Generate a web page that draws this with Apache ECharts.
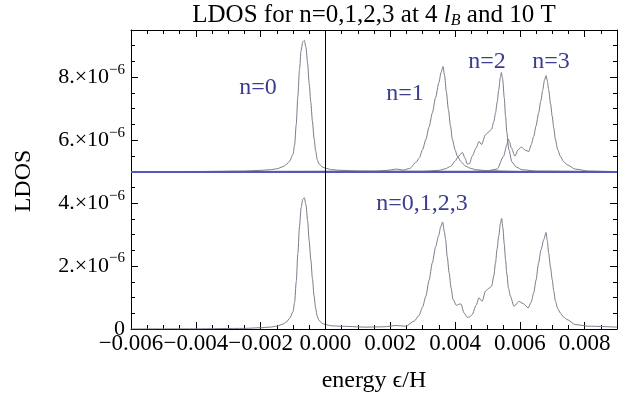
<!DOCTYPE html>
<html>
<head>
<meta charset="utf-8">
<script src="https://cdn.jsdelivr.net/npm/echarts@6/dist/echarts.min.js"></script>
<style>
  html, body { margin: 0; padding: 0; background: #fff; }
  #chart { width: 633px; height: 396px; }
</style>
</head>
<body>
<div id="chart"></div>
<script>
// LDOS values in units of 1e-6, energies in eps/H
const energyN0 = [-0.006, -0.004, -0.0025, -0.002, -0.0017, -0.0015, -0.0013, -0.0012, -0.0011, -0.001,
  -0.00095, -0.0009, -0.00085, -0.0008, -0.00075, -0.0007, -0.00065, -0.0006, -0.00055, -0.0005,
  -0.00045, -0.0004, -0.00035, -0.0003, -0.00025, -0.0002, -0.0001, 0, 0.0002, 0.0005, 0.001, 0.002, 0.009];
const ldosN0 = [0, 0.005, 0.02, 0.04, 0.06, 0.09, 0.16, 0.23, 0.34, 0.55,
  0.85, 1.5, 2.4, 3.25, 3.85, 4.12, 4.17, 3.95, 3.45, 2.8,
  2.2, 1.6, 1.05, 0.65, 0.38, 0.25, 0.15, 0.11, 0.06, 0.04, 0.02, 0.01, 0];

const energyN1 = [-0.006, 0.0015, 0.0019, 0.0022, 0.0024, 0.0026, 0.0028, 0.0029, 0.003, 0.0031,
  0.0032, 0.0033, 0.0034, 0.0035, 0.00357, 0.00363, 0.00368, 0.00373, 0.0038, 0.00386,
  0.00392, 0.004, 0.00407, 0.0042, 0.00433, 0.0045, 0.00464, 0.005, 0.006, 0.009];
const ldosN1 = [0, 0.01, 0.04, 0.08, 0.05, 0.1, 0.3, 0.44, 0.7, 1.02,
  1.42, 1.86, 2.35, 2.82, 3.15, 3.34, 3.05, 2.55, 1.95, 1.45,
  1.02, 0.7, 0.49, 0.3, 0.17, 0.1, 0.06, 0.03, 0.01, 0];

const energyN2 = [-0.006, 0.003, 0.0035, 0.0037, 0.00387, 0.004, 0.0041, 0.00423, 0.0043, 0.00438,
  0.00445, 0.00453, 0.00465, 0.00474, 0.00482, 0.00494, 0.00505, 0.00513, 0.0052, 0.00525,
  0.0053, 0.00535, 0.0054, 0.00543, 0.00547, 0.00552, 0.00556, 0.0056, 0.00566, 0.00576,
  0.0059, 0.00607, 0.0065, 0.009];
const ldosN2 = [0, 0.01, 0.04, 0.09, 0.17, 0.33, 0.48, 0.61, 0.45, 0.24,
  0.26, 0.49, 0.75, 0.96, 0.86, 1.17, 1.27, 1.35, 1.6, 1.86,
  2.2, 2.6, 3.0, 3.15, 2.95, 2.35, 1.76, 1.25, 0.7, 0.3,
  0.14, 0.06, 0.02, 0];

const energyN3 = [-0.006, 0.0045, 0.005, 0.0053, 0.0055, 0.0056, 0.00564, 0.00568, 0.00574, 0.00585,
  0.00595, 0.00605, 0.00617, 0.00628, 0.00635, 0.00643, 0.0065, 0.00658, 0.00665, 0.00671,
  0.00676, 0.00681, 0.00685, 0.00689, 0.00695, 0.007, 0.00705, 0.0071, 0.00717, 0.00725,
  0.00735, 0.00746, 0.00771, 0.0081, 0.009];
const ldosN3 = [0, 0.01, 0.03, 0.08, 0.49, 0.85, 1.04, 0.95, 0.75, 0.49,
  0.70, 0.78, 0.68, 0.64, 0.85, 1.12, 1.45, 1.86, 2.25, 2.6,
  2.9, 3.05, 2.88, 2.6, 2.15, 1.76, 1.38, 1.02, 0.7, 0.49,
  0.32, 0.22, 0.08, 0.02, 0];

const energySum = [-0.006, -0.004, -0.0025, -0.002, -0.0017, -0.0015, -0.0013, -0.0012, -0.0011, -0.001,
  -0.00095, -0.0009, -0.00085, -0.0008, -0.00075, -0.0007, -0.00065, -0.0006, -0.00055, -0.0005,
  -0.00045, -0.0004, -0.00035, -0.0003, -0.00025, -0.0002, -0.0001, 0,
  0.0002, 0.00043, 0.00125, 0.0018, 0.00218, 0.00248, 0.00274, 0.00289, 0.003, 0.0031,
  0.0032, 0.0033, 0.0034, 0.00349, 0.00356, 0.00362, 0.00367, 0.00371, 0.00376, 0.00382,
  0.00388, 0.00394, 0.00404, 0.00411, 0.00418, 0.00428, 0.00438, 0.00445, 0.00453, 0.00465,
  0.00474, 0.00484, 0.00494, 0.00505, 0.00513, 0.0052, 0.00525, 0.0053, 0.00535, 0.0054,
  0.00544, 0.00548, 0.00552, 0.00556, 0.0056, 0.00565, 0.00571, 0.00582, 0.0059, 0.00597,
  0.0061, 0.00626, 0.00635, 0.00643, 0.0065, 0.00658, 0.00665, 0.00674, 0.00681, 0.00685,
  0.00689, 0.00695, 0.007, 0.00705, 0.0071, 0.00717, 0.00725, 0.00735, 0.00746, 0.00771,
  0.0081, 0.009];
const ldosSum = [0, 0.005, 0.02, 0.04, 0.06, 0.09, 0.16, 0.23, 0.34, 0.55,
  0.85, 1.5, 2.4, 3.25, 3.85, 4.12, 4.17, 3.95, 3.45, 2.8,
  2.2, 1.6, 1.05, 0.65, 0.4, 0.28, 0.18, 0.14,
  0.1, 0.09, 0.06, 0.07, 0.11, 0.09, 0.25, 0.43, 0.7, 1.04,
  1.55, 2.1, 2.6, 2.95, 3.25, 3.4, 3.1, 2.84, 2.3, 1.78,
  1.3, 0.94, 0.75, 0.78, 0.8, 0.51, 0.37, 0.38, 0.46, 0.75,
  0.99, 0.88, 1.2, 1.3, 1.36, 1.7, 2.1, 2.55, 2.95, 3.35,
  3.51, 3.2, 2.7, 2.2, 1.75, 1.3, 1.04, 0.72, 0.8, 0.88,
  0.81, 0.67, 0.85, 1.15, 1.55, 2.1, 2.5, 2.84, 3.07, 2.8,
  2.42, 1.95, 1.57, 1.2, 0.88, 0.65, 0.51, 0.38, 0.3, 0.14,
  0.09, 0.06];

const OFFSET = 5;       // upper curves are shifted up by 5e-6
const FONT = "'Liberation Serif', 'Times New Roman', serif";
const CURVE = '#7a7a8a';
const LABEL = '#3c3c90';

const chart = echarts.init(document.getElementById('chart'));

const curve = (xs, ys, shift) => xs.map((x, i) => [x, ys[i] + shift]);

function line(name, data, extra) {
  return Object.assign({
    name, type: 'line', data,
    symbol: 'none', smooth: 0.25, smoothMonotone: 'x',
    lineStyle: { color: CURVE, width: 1 },
    animation: false, silent: true
  }, extra || {});
}

const xLabel = (v) => {
  const k = v / 0.002;
  if (Math.abs(k - Math.round(k)) > 1e-6) return '';
  const s = Math.abs(v).toFixed(3);
  return v < -1e-12 ? '\u2212' + s : s;
};
const yLabel = (v) => {
  if (Math.abs(v / 2 - Math.round(v / 2)) > 1e-6) return '';
  if (Math.abs(v) < 1e-9) return '{m|0}';
  return '{m|' + Math.round(v) + '.\u00d710}{s|\u22126}';
};

const black = { color: '#000', width: 1 };

function xAx(position, interval, len, labels) {
  return {
    type: 'value', position, min: -0.006, max: 0.009, interval,
    axisLine: { show: labels !== null, onZero: false, lineStyle: black },
    axisTick: { show: true, inside: true, length: len, lineStyle: black },
    axisLabel: labels ? {
      show: true, interval: 0, formatter: xLabel, margin: 3,
      color: '#000', fontFamily: FONT, fontSize: 23
    } : { show: false },
    splitLine: { show: false }
  };
}
function yAx(position, interval, len, labels) {
  return {
    type: 'value', position, min: 0, max: 9.5, interval,
    axisLine: { show: labels !== null, onZero: false, lineStyle: black },
    axisTick: { show: true, inside: true, length: len, lineStyle: black },
    axisLabel: labels ? {
      show: true, interval: 0, formatter: yLabel, margin: 6, color: '#000',
      rich: {
        m: { fontFamily: FONT, fontSize: 22, lineHeight: 30, color: '#000' },
        s: { fontFamily: FONT, fontSize: 15, lineHeight: 16, verticalAlign: 'top', color: '#000' }
      }
    } : { show: false },
    splitLine: { show: false }
  };
}

const option = {
  backgroundColor: '#fff',
  animation: false,
  grid: { left: 131, right: 16, top: 30, bottom: 67, containLabel: false },
  xAxis: [
    xAx('bottom', 0.0005, 4, true),
    xAx('bottom', 0.002, 7, null),
    xAx('top', 0.0005, 4, false),
    xAx('top', 0.002, 7, null)
  ],
  yAxis: [
    yAx('left', 0.5, 4, true),
    yAx('left', 2, 7, null),
    yAx('right', 0.5, 4, false),
    yAx('right', 2, 7, null)
  ],
  series: [
    line('n=0', curve(energyN0, ldosN0, OFFSET)),
    line('n=1', curve(energyN1, ldosN1, OFFSET)),
    line('n=2', curve(energyN2, ldosN2, OFFSET)),
    line('n=3', curve(energyN3, ldosN3, OFFSET), {
      markLine: {
        silent: true, symbol: 'none', label: { show: false }, animation: false,
        data: [
          { yAxis: OFFSET, lineStyle: { color: '#5656bd', width: 2, type: 'solid' } },
          { xAxis: 0, lineStyle: { color: '#000', width: 1, type: 'solid' } }
        ]
      }
    }),
    line('n=0,1,2,3', curve(energySum, ldosSum, 0))
  ],
  graphic: [
    {
      type: 'text', x: 374, y: 15,
      style: {
        text: '{t|LDOS for n=0,1,2,3 at 4 }{i|l}{b|B}{t| and 10 T}',
        align: 'center', verticalAlign: 'middle',
        textAlign: 'center', textVerticalAlign: 'middle',
        rich: {
          t: { fontFamily: FONT, fontSize: 25, lineHeight: 28, fill: '#000', color: '#000' },
          i: { fontFamily: FONT, fontSize: 25, fontStyle: 'italic', lineHeight: 28, fill: '#000', color: '#000' },
          b: { fontFamily: FONT, fontSize: 16, fontStyle: 'italic', lineHeight: 22, verticalAlign: 'bottom', fill: '#000', color: '#000' }
        }
      }
    },
    {
      type: 'text', x: 24, y: 181, rotation: Math.PI / 2,
      style: {
        text: 'LDOS', fontFamily: FONT, fontSize: 24, fill: '#000',
        align: 'center', verticalAlign: 'middle', textAlign: 'center', textVerticalAlign: 'middle'
      }
    },
    {
      type: 'text', x: 374, y: 381,
      style: {
        text: 'energy \u03f5/H', fontFamily: FONT, fontSize: 24, fill: '#000',
        align: 'center', verticalAlign: 'middle', textAlign: 'center', textVerticalAlign: 'middle'
      }
    },
    ...[['n=0', 258, 88], ['n=1', 405, 94], ['n=2', 487, 62], ['n=3', 551, 62], ['n=0,1,2,3', 422, 204]]
      .map(([t, x, y]) => ({
        type: 'text', x, y,
        style: {
          text: t, fontFamily: FONT, fontSize: 24, fill: LABEL,
          align: 'center', verticalAlign: 'middle', textAlign: 'center', textVerticalAlign: 'middle'
        }
      }))
  ]
};

chart.setOption(option);
</script>
</body>
</html>
